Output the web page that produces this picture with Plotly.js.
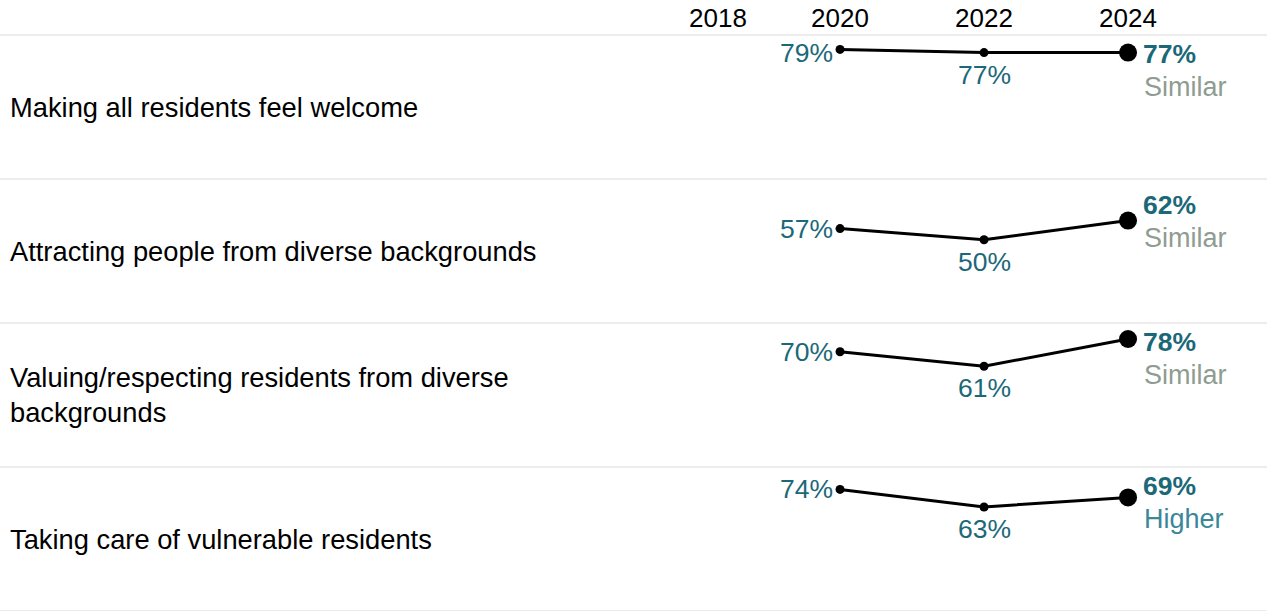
<!DOCTYPE html>
<html>
<head>
<meta charset="utf-8">
<script src="https://cdn.plot.ly/plotly-3.0.1.min.js"></script>
<style>html,body{margin:0;padding:0;background:#fff}#chart{width:1267px;height:611px}</style>
</head>
<body>
<div id="chart"></div>
<script>
// ---- data ----
const categories = [
  "Making all residents feel welcome",
  "Attracting people from diverse backgrounds",
  "Valuing/respecting residents from diverse<br>backgrounds",
  "Taking care of vulnerable residents"
];
const headerYears = [2018, 2020, 2022, 2024];
const years = [2020, 2022, 2024];
const welcome = [79, 77, 77];
const attracting = [57, 50, 62];
const valuing = [70, 61, 78];
const vulnerable = [74, 63, 69];
const seriesList = [welcome, attracting, valuing, vulnerable];
const status = ["Similar", "Similar", "Similar", "Higher"];

// ---- styling ----
const FONT = "Liberation Sans, Arial, Helvetica, sans-serif";
const TEAL = "#1b6878";
const statusColor = {Similar: "#8e9c91", Higher: "#3a8799"};
const YMIN = -2, YMAX = 88;
const nRows = categories.length;

const traces = [];
const annotations = [];
const shapes = [];
const layout = {
  width: 1267, height: 611,
  margin: {l: 0, r: 0, t: 35, b: 0},
  paper_bgcolor: "#fff", plot_bgcolor: "#fff",
  showlegend: false,
  font: {family: FONT, color: "#000"},
  xaxis: {range: [2008.333, 2025.93], visible: false, fixedrange: true},
};

seriesList.forEach((vals, i) => {
  const yname = i === 0 ? "yaxis" : "yaxis" + (i + 1);
  const yref = i === 0 ? "y" : "y" + (i + 1);
  const top = 1 - i / nRows, bot = 1 - (i + 1) / nRows;
  layout[yname] = {domain: [bot, top], range: [YMIN, YMAX], visible: false, fixedrange: true};
  traces.push({
    type: "scatter", mode: "lines+markers",
    x: years, y: vals, xaxis: "x", yaxis: yref,
    line: {color: "#000", width: 3},
    marker: {color: "#000", opacity: 1, line: {width: 0, color: "#000"},
             size: years.map((y, k) => k === years.length - 1 ? 18 : 9)},
    opacity: 1,
    hoverinfo: "skip", cliponaxis: false
  });
  // row label
  annotations.push({
    xref: "paper", yref: "paper", x: 0, y: (top + bot) / 2,
    xanchor: "left", yanchor: "middle", xshift: 8, align: "left",
    text: categories[i], showarrow: false,
    font: {family: FONT, size: 27.3, color: "#000"}
  });
  // first value label (left of point)
  annotations.push({
    xref: "x", yref: yref, x: years[0], y: Math.min(vals[0], 76.7),
    xanchor: "right", yanchor: "middle", xshift: -5,
    text: vals[0] + "%", showarrow: false,
    font: {family: FONT, size: 26.5, color: TEAL}
  });
  // middle labels (below point)
  for (let k = 1; k < years.length - 1; k++) {
    annotations.push({
      xref: "x", yref: yref, x: years[k], y: vals[k],
      xanchor: "center", yanchor: "middle", yshift: -22,
      text: vals[k] + "%", showarrow: false,
      font: {family: FONT, size: 26.5, color: TEAL}
    });
  }
  // last value (bold) + status
  const last = vals[vals.length - 1];
  const ly = Math.min(last + 10, 76.2);
  annotations.push({
    xref: "x", yref: yref, x: years[years.length - 1], y: ly,
    xanchor: "left", yanchor: "middle", xshift: 13,
    text: "<b>" + last + "%</b>", showarrow: false,
    font: {family: FONT, size: 26.5, color: TEAL}
  });
  annotations.push({
    xref: "x", yref: yref, x: years[years.length - 1], y: ly,
    xanchor: "left", yanchor: "middle", xshift: 14, yshift: -33,
    text: status[i], showarrow: false,
    font: {family: FONT, size: 27, color: statusColor[status[i]]}
  });
  // separator line at bottom of row
  shapes.push({
    type: "line", xref: "paper", yref: "paper", x0: 0, x1: 1, y0: bot, y1: bot,
    line: {color: "#d9d9d9", width: 1}
  });
});
// header line
shapes.push({type: "line", xref: "paper", yref: "paper", x0: 0, x1: 1, y0: 1, y1: 1,
  line: {color: "#d9d9d9", width: 1}});
// header years
headerYears.forEach((yr, k) => {
  annotations.push({
    xref: "x", yref: "paper", x: yr, y: 1, xanchor: "center", yanchor: "bottom",
    yshift: 0, xshift: yr < years[0] ? 22 : 0,
    text: String(yr), showarrow: false,
    font: {family: FONT, size: 26, color: "#000"}
  });
});
layout.annotations = annotations;
layout.shapes = shapes;

Plotly.newPlot("chart", traces, layout, {displayModeBar: false, staticPlot: true});
</script>
</body>
</html>
